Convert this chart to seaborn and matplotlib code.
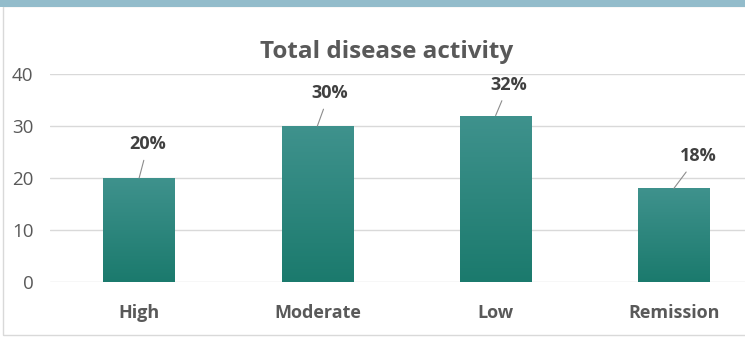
import matplotlib
matplotlib.use("Agg")
import matplotlib.pyplot as plt
import seaborn as sns
import numpy as np
import pandas as pd
from matplotlib.colors import LinearSegmentedColormap
from matplotlib.patches import Rectangle

categories = ["High", "Moderate", "Low", "Remission"]
values = [20, 30, 32, 18]
labels = ["20%", "30%", "32%", "18%"]
yticks = [0, 10, 20, 30, 40]
title = "Total disease activity"

# label offsets in pixels (style only)
label_offsets = [(9, 34), (12, 33), (13, 31), (24, 32)]

sns.set_theme(style="white")
plt.rcParams["font.family"] = ["Open Sans", "DejaVu Sans"]

df = pd.DataFrame({"category": categories, "value": values})

fig = plt.figure(figsize=(7.45, 3.38), dpi=100)
fig.patch.set_facecolor("white")

# outer border and top band
fig.add_artist(Rectangle((3 / 745, 3 / 338), 1.2, 1 - 9 / 338, transform=fig.transFigure,
                         fill=False, edgecolor="#d9d9d9", lw=1.0))
fig.add_artist(Rectangle((0, 1 - 7 / 338), 1, 7 / 338, transform=fig.transFigure,
                         facecolor="#93bccb", edgecolor="none"))

ax = fig.add_axes([50 / 745, 1 - 282 / 338, (763 - 50) / 745, (282 - 74) / 338])
ax.set_facecolor("none")

sns.barplot(data=df, x="category", y="value", ax=ax, width=0.4,
            color="#2a8580", saturation=1, edgecolor="none")

ax.set_ylim(0, 40)
ax.set_yticks(yticks)
ax.set_xlim(-0.5, len(categories) - 0.5)
ax.yaxis.grid(True, color="#d9d9d9", lw=1.0)
ax.set_axisbelow(True)
for s in ax.spines.values():
    s.set_visible(False)
ax.set_xlabel("")
ax.set_ylabel("")
ax.tick_params(axis="y", length=0, pad=12, labelsize=13.5, labelcolor="#595959")
ax.tick_params(axis="x", length=0, pad=16, labelsize=13, labelcolor="#595959")
for t in ax.get_xticklabels():
    t.set_fontweight("bold")

# gradient fill
cmap = LinearSegmentedColormap.from_list("teal", ["#1b7a6d", "#3f928d"])
grad = np.linspace(0, 1, 256).reshape(-1, 1)
for p in ax.patches:
    x0, y0 = p.get_x(), p.get_y()
    w, h = p.get_width(), p.get_height()
    im = ax.imshow(grad, cmap=cmap, aspect="auto", origin="lower",
                   extent=[x0, x0 + w, y0, y0 + h], zorder=p.get_zorder() + 0.1)
    im.set_clip_path(p)
ax.set_xlim(-0.5, len(categories) - 0.5)
ax.set_ylim(0, 40)

for i, (v, lab) in enumerate(zip(values, labels)):
    dx, dy = label_offsets[i]
    ax.annotate(lab, xy=(i, v), xytext=(dx, dy), textcoords="offset pixels",
                ha="center", va="center", fontsize=13, fontweight="bold",
                color="#404040",
                arrowprops=dict(arrowstyle="-", color="#8c8c8c", lw=0.8,
                                shrinkA=3, shrinkB=0))

fig.text(387 / 745, 1 - 52 / 338, title, ha="center", va="center",
         fontsize=17.5, fontweight="bold", color="#595959")

fig.savefig("out.png", dpi=100)
